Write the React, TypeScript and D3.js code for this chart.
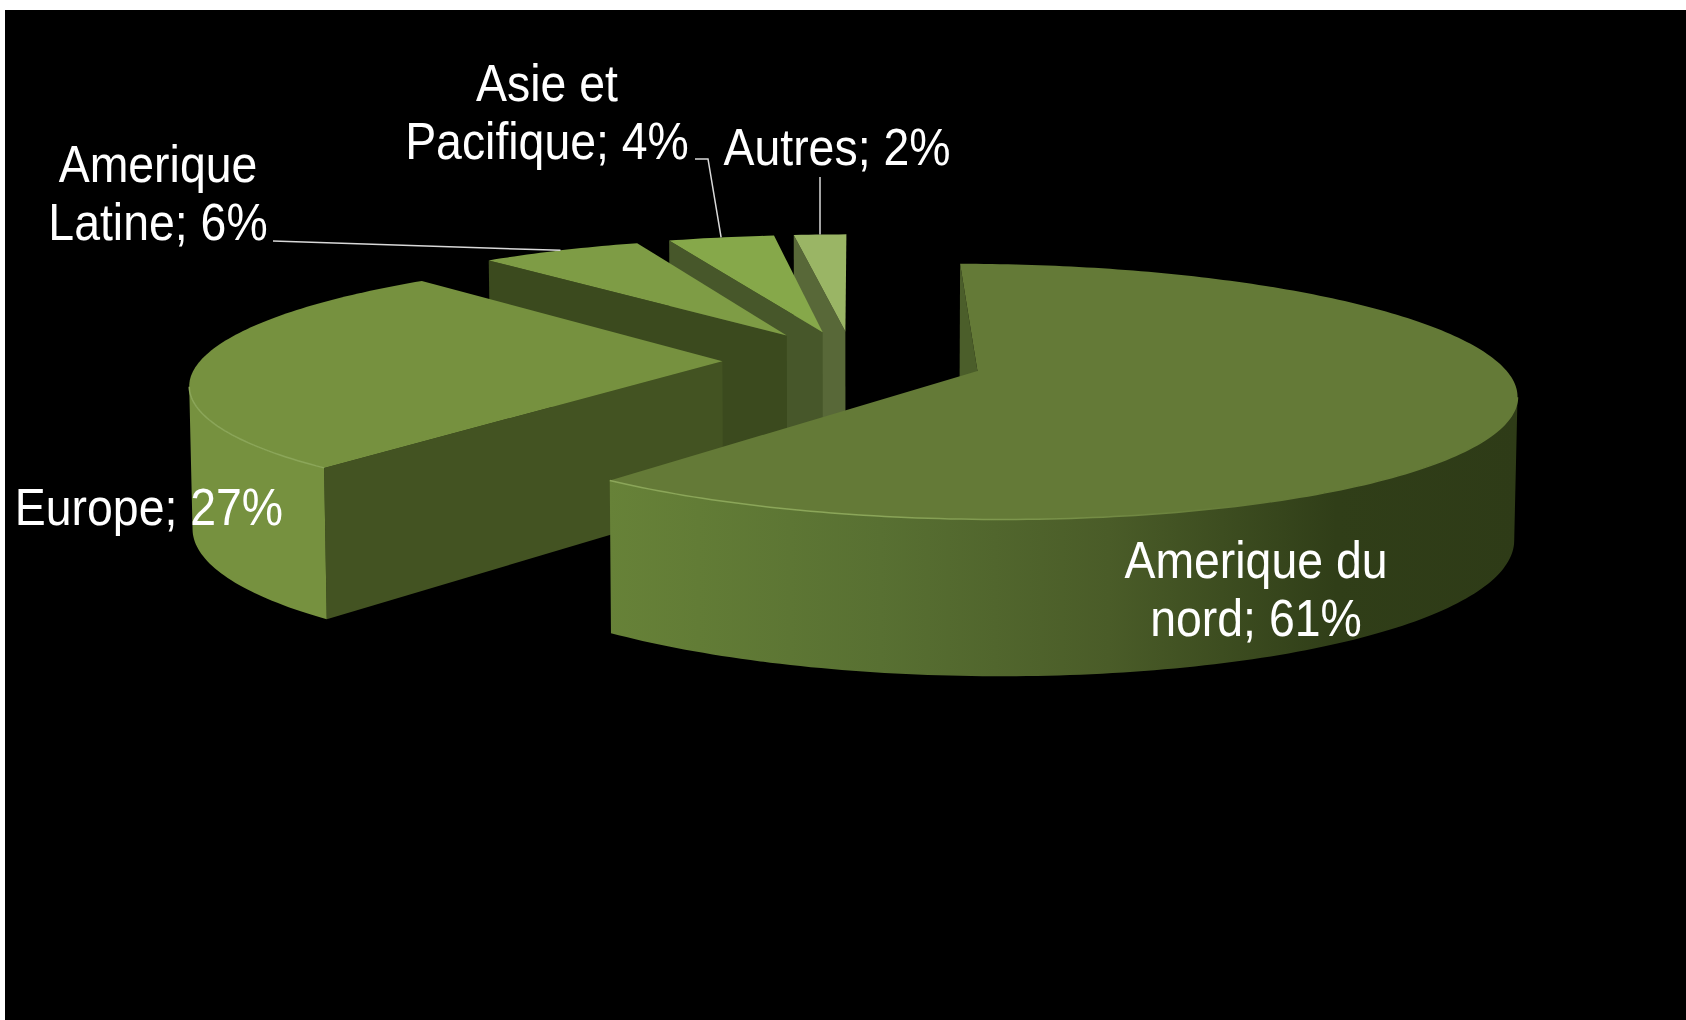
import React from "react";
import * as d3 from "d3";

const regions = ["Amerique du nord", "Europe", "Amerique Latine", "Asie et Pacifique", "Autres"];
// printed labels are rounded, the slice widths on the picture give the decimals
const shares = [61, 27.25, 5.92, 3.9, 1.93];

const topColors = ["#647a37", "#76913f", "#7e9c45", "#86a84a", "#9ab565"];
const wallColors = ["#4b5e2a", "#435322", "#3b4a1e", "#47572a", "#586838"];
const sideColors = ["url(#naSide)", "#76913f", "#3b4a1e", "#47572a", "#586838"];

// text lines per region, centre x and first baseline
const labelLines = [
  ["Amerique du", "nord; 61%"],
  ["Europe; 27%"],
  ["Amerique", "Latine; 6%"],
  ["Asie et", "Pacifique; 4%"],
  ["Autres; 2%"],
];
const labelSpots = [
  [1256, 578],
  [149, 525],
  [158, 182],
  [547, 101],
  [837, 165],
];
// where the leader starts, null for labels without one
const leaderStarts: ([number, number][] | null)[] = [
  null,
  null,
  [[273, 241]],
  [[695, 159], [708, 159]],
  [[820, 177]],
];

const width = 1686;
const height = 1020;

// pie plane to screen: a small perspective towards a vanishing point high above the chart
const vanishX = 853;
const horizonY = -396.5;
const planeDepth = 757;
const spreadX = 522;
const tilt = 0.16;
const explode = 0.25;

const scaleAt = (v: number) => 1 / (1 - tilt * v);
const project = (u: number, v: number): [number, number] => {
  const s = scaleAt(v);
  return [vanishX + spreadX * u * s, horizonY + planeDepth * s];
};
// same point on the underside of the pie
const drop = (u: number, v: number): [number, number] => {
  const [x, y] = project(u, v);
  return [vanishX + (x - vanishX) * 0.995, y + 140 + 80 * (scaleAt(v) - 1)];
};

const line = d3.line<[number, number]>();

const arcs = d3
  .pie<number>()
  .sort(null)
  .value((d) => d)(shares);

const slices = arcs.map((a, i) => {
  const mid = (a.startAngle + a.endAngle) / 2;
  const ou = explode * Math.sin(mid);
  const ov = -explode * Math.cos(mid);
  const rim = (t: number): [number, number] => [ou + Math.sin(t), ov - Math.cos(t)];
  const steps = Math.ceil(((a.endAngle - a.startAngle) * 180) / Math.PI);
  const angles = d3.range(steps + 1).map((k) => a.startAngle + ((a.endAngle - a.startAngle) * k) / steps);
  const rimTop = angles.map((t) => project(...rim(t)));
  const apexTop = project(ou, ov);
  const apexLow = drop(ou, ov);
  const top = line([apexTop, ...rimTop])! + "Z";
  const startRim = rim(a.startAngle);
  const wall = line([apexTop, project(...startRim), drop(...startRim), apexLow])! + "Z";
  // outer side only where the rim runs right to left, facing the viewer
  const facing = angles.filter((t) => project(...rim(t + 0.005))[0] < project(...rim(t))[0]);
  const sideTop = facing.map((t) => project(...rim(t)));
  const sideLow = facing.map((t) => drop(...rim(t))).reverse();
  const side = facing.length > 1 ? line([...sideTop, ...sideLow])! + "Z" : null;
  const edge = facing.length > 1 ? line(sideTop) : null;
  return { i, top, wall, side, edge, anchor: project(...rim(mid)) };
});

const App = () => {
  const backToFront = [...slices].reverse();
  return (
    <svg
      width={width}
      height={height}
      viewBox={`0 0 ${width} ${height}`}
      style={{ position: "absolute", left: 0, top: 0, background: "#fff" }}
    >
      <defs>
        <linearGradient id="naSide" gradientUnits="userSpaceOnUse" x1={608} x2={1518} y1={0} y2={0}>
          <stop offset="0" stopColor="#678238" />
          <stop offset="0.3" stopColor="#587032" />
          <stop offset="0.55" stopColor="#4a5c28" />
          <stop offset="0.8" stopColor="#303e18" />
          <stop offset="1" stopColor="#2e3b17" />
        </linearGradient>
        <linearGradient id="rimLight" gradientUnits="userSpaceOnUse" x1={190} x2={1250} y1={0} y2={0}>
          <stop offset="0" stopColor="#8ba659" />
          <stop offset="0.65" stopColor="#8ba659" />
          <stop offset="1" stopColor="#647a37" />
        </linearGradient>
      </defs>
      <rect x={5} y={10} width={width - 5} height={height - 10} fill="#000" />
      {backToFront.map((s) => (
        <g key={regions[s.i]}>
          <path d={s.wall} fill={wallColors[s.i]} />
          {s.side && <path d={s.side} fill={sideColors[s.i]} />}
          <path d={s.top} fill={topColors[s.i]} />
          {s.edge && <path d={s.edge} fill="none" stroke="url(#rimLight)" strokeWidth={1.5} />}
        </g>
      ))}
      {slices.map((s) => {
        const from = leaderStarts[s.i];
        if (!from) return null;
        return (
          <path
            key={`leader-${s.i}`}
            d={line([...from, s.anchor])!}
            fill="none"
            stroke="#d9d9d9"
            strokeWidth={1.5}
          />
        );
      })}
      {labelLines.map((rows, i) => (
        <g
          key={`label-${i}`}
          transform={`translate(${labelSpots[i][0]},${labelSpots[i][1]}) scale(0.91,1)`}
          fontFamily="'Liberation Sans', Arial, sans-serif"
          fontSize={51}
          fill="#fff"
          textAnchor="middle"
        >
          {rows.map((row, k) => (
            <text key={row} y={k * 58}>
              {row}
            </text>
          ))}
        </g>
      ))}
    </svg>
  );
};

export default App;
